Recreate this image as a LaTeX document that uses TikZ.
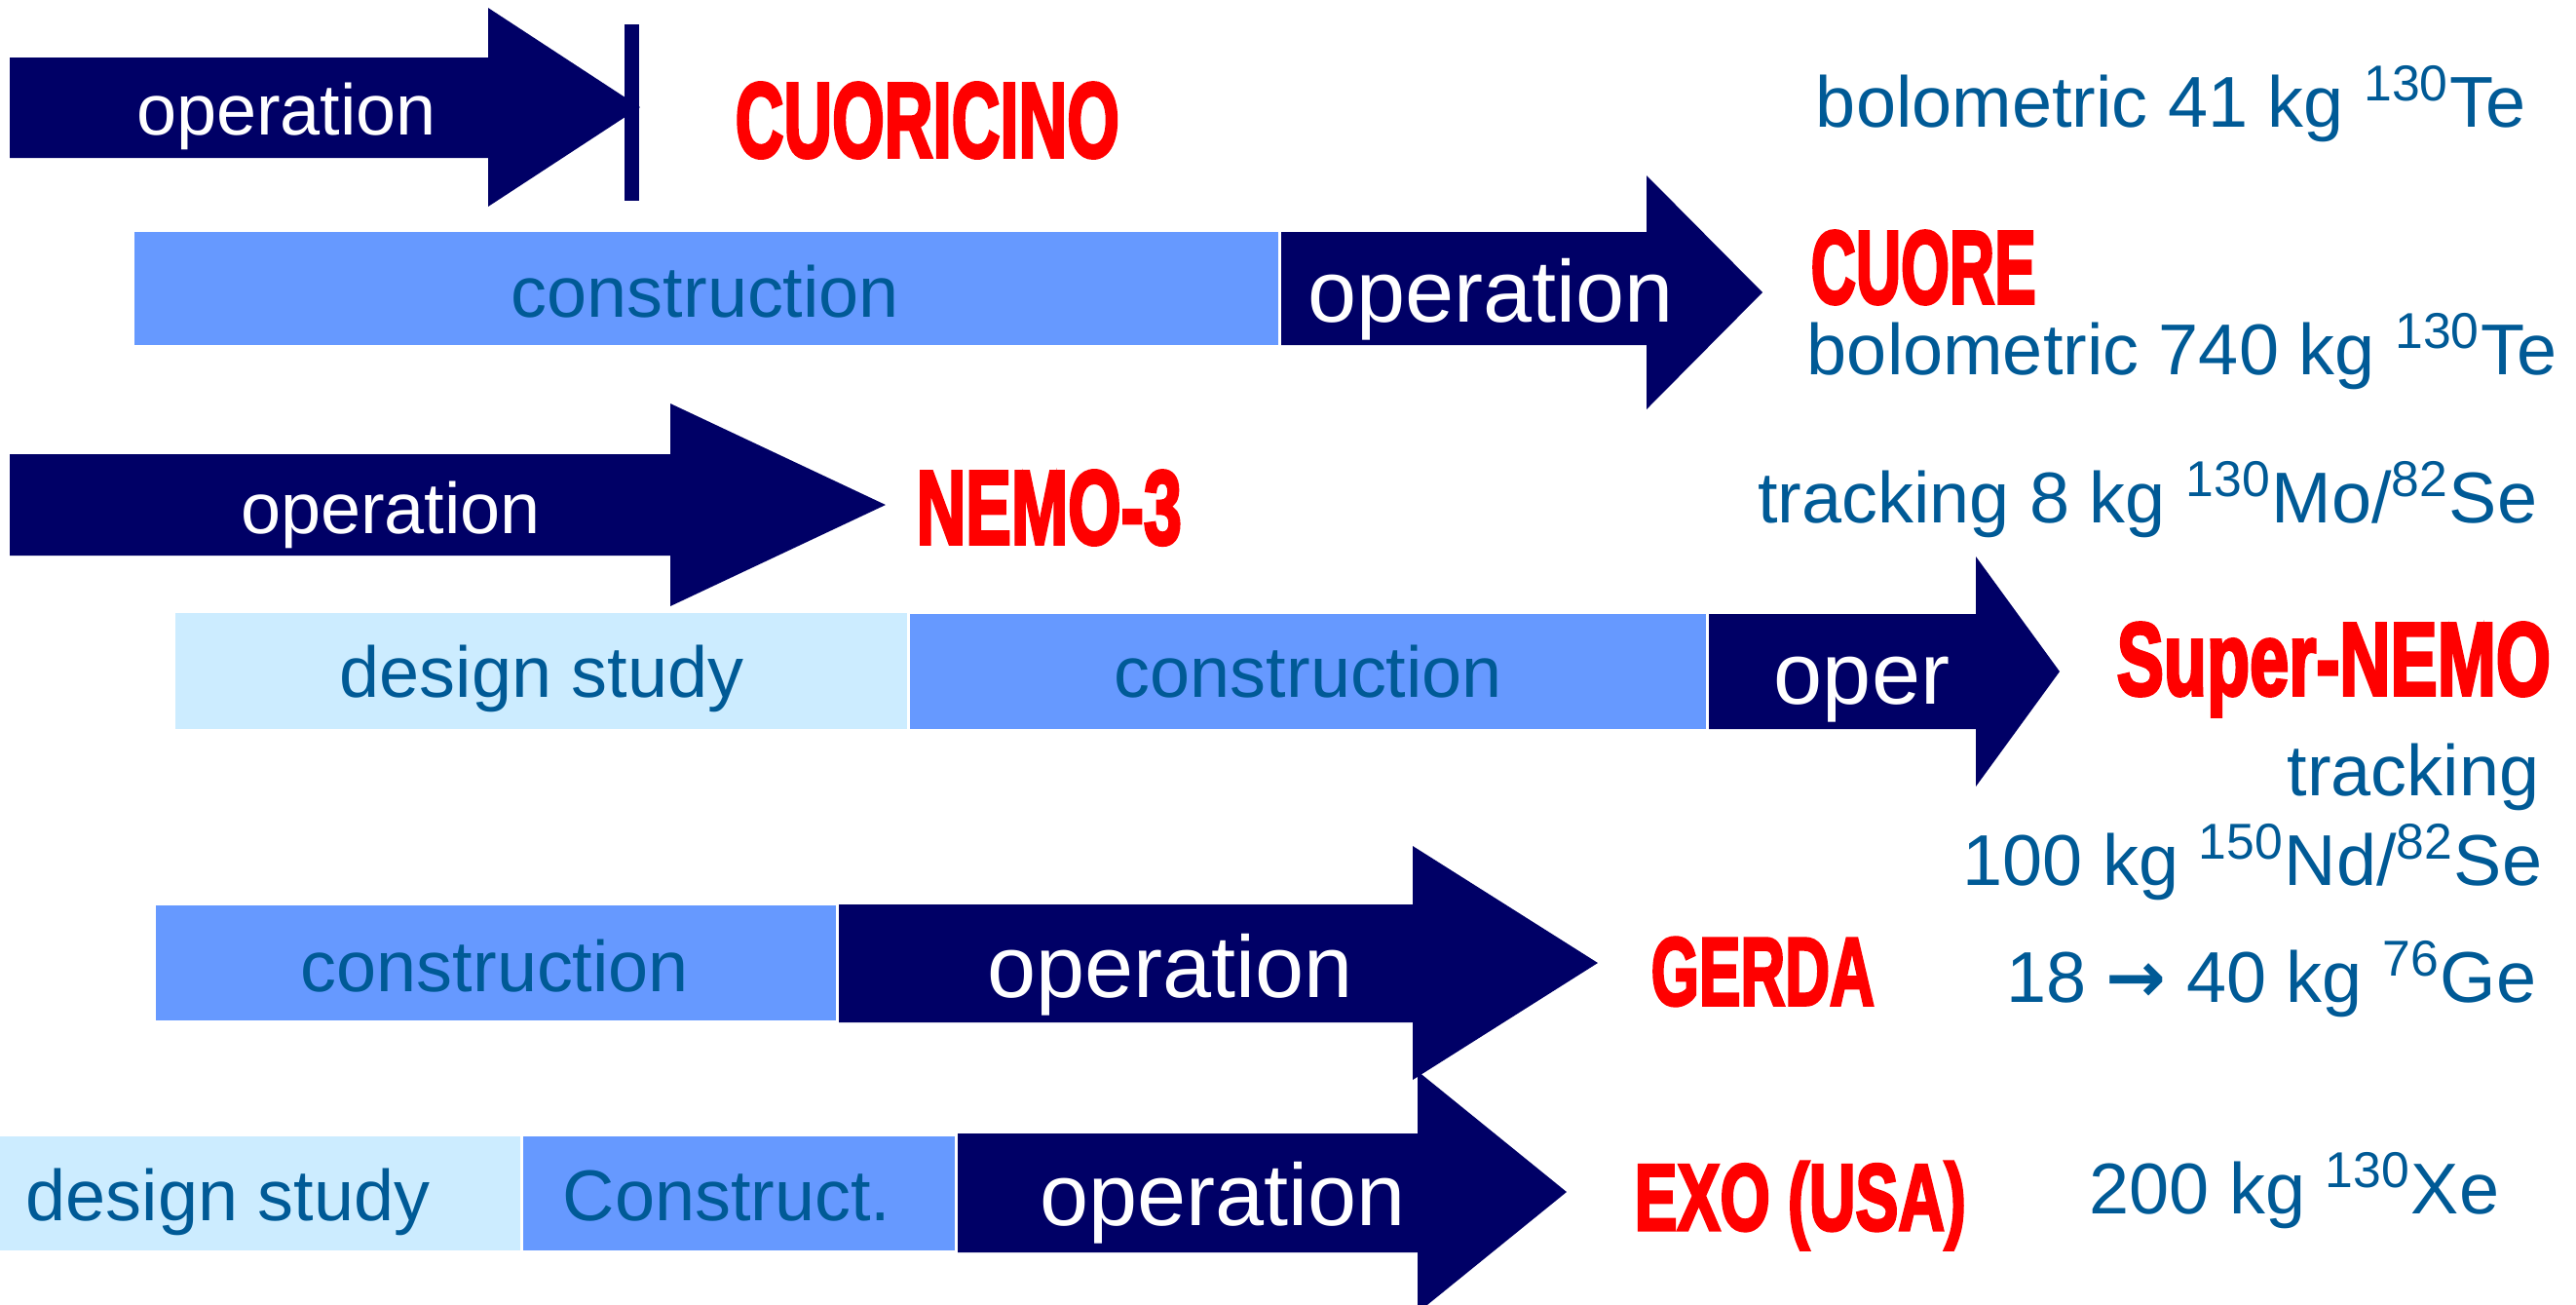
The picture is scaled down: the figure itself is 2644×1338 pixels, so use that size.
\documentclass[tikz,border=0pt]{standalone}
\usepackage{fontspec}
\usepackage{graphicx}
\setmainfont{Liberation Sans}
\newfontfamily\heavyfont{Liberation Sans}[BoldFeatures={FakeBold=3.5}]
\newfontfamily\arrowfont{DejaVu Sans}
\definecolor{opnavy}{RGB}{0,0,102}
\definecolor{conblue}{RGB}{102,153,255}
\definecolor{desblue}{RGB}{204,236,255}
\definecolor{txtblue}{RGB}{0,90,150}
\definecolor{labred}{RGB}{255,0,0}
\newcommand\heavylabel[3]{\resizebox{#1}{#2}{\heavyfont\bfseries #3}}
\tikzset{
  opfill/.style={fill=opnavy},
  confill/.style={fill=conblue},
  desfill/.style={fill=desblue},
  optext/.style={text=white, font=\fontsize{21}{21}\selectfont, anchor=base, inner sep=0pt},
  bigoptext/.style={text=white, font=\fontsize{25.6}{26}\selectfont, anchor=base, inner sep=0pt},
  boxtext/.style={text=txtblue, font=\fontsize{21}{21}\selectfont, anchor=base, inner sep=0pt},
  infotext/.style={text=txtblue, font=\fontsize{21}{21}\selectfont, anchor=base east, inner sep=0pt},
  expname/.style={text=labred, anchor=base west, inner sep=0pt},
}
\begin{document}
\begin{tikzpicture}[x=0.01cm,y=-0.01cm]
\useasboundingbox (0,0) rectangle (2644,1338);
\fill[white] (0,0) rectangle (2644,1338);
\begin{scope}
\clip (0,0) rectangle (2644,1338);
% Row 1: CUORICINO
\fill[opfill] (10,59) -- (501,59) -- (501,8) -- (657,110) -- (501,212) -- (501,162) -- (10,162) -- cycle;
\fill[opfill] (641,25) rectangle (656,206);
\node[optext] (op1) at (294,138) {operation};
\node[expname] (cuoricino) at (754,161) {\heavylabel{3.94cm}{0.76cm}{CUORICINO}};
\node[infotext] (info1) at (2593,130) {bolometric 41 kg \textsuperscript{130}Te};
% Row 2: CUORE
\fill[confill] (138,238) rectangle (1312,354);
\fill[opfill] (1315,238) -- (1690,238) -- (1690,180) -- (1809,300) -- (1690,420) -- (1690,354) -- (1315,354) -- cycle;
\node[boxtext] (con2) at (724,325) {construction};
\node[bigoptext] (op2) at (1530,330) {operation};
\node[expname] (cuore) at (1858,311) {\heavylabel{2.31cm}{0.74cm}{CUORE}};
\node[infotext] (info2) at (2625,384) {bolometric 740 kg \textsuperscript{130}Te};
% Row 3: NEMO-3
\fill[opfill] (10,466) -- (688,466) -- (688,414) -- (909,518) -- (688,622) -- (688,570) -- (10,570) -- cycle;
\node[optext] (op3) at (401,547) {operation};
\node[expname] (nemo) at (940,558) {\heavylabel{2.72cm}{0.75cm}{NEMO-3}};
\node[infotext] (info3) at (2605,536) {tracking 8 kg \textsuperscript{130}Mo/\textsuperscript{82}Se};
% Row 4: Super-NEMO
\fill[desfill] (180,629) rectangle (931,748);
\fill[confill] (934,630) rectangle (1751,748);
\fill[opfill] (1754,630) -- (2028,630) -- (2028,571) -- (2114,689) -- (2028,807) -- (2028,748) -- (1754,748) -- cycle;
\node[boxtext] (des4) at (556,715) {design study};
\node[boxtext] (con4) at (1343,715) {construction};
\node[bigoptext] (op4) at (1911,722) {oper};
\node[expname] (supernemo) at (2172,713) {\heavylabel{4.45cm}{0.74cm}{Super-NEMO}};
\node[infotext] (info4a) at (2607,816) {tracking};
\node[infotext] (info4b) at (2610,908) {100 kg \textsuperscript{150}Nd/\textsuperscript{82}Se};
% Row 5: GERDA
\fill[confill] (160,929) rectangle (858,1047);
\fill[opfill] (861,928) -- (1450,928) -- (1450,868) -- (1640,988) -- (1450,1108) -- (1450,1049) -- (861,1049) -- cycle;
\node[boxtext] (con5) at (508,1017) {construction};
\node[bigoptext] (op5) at (1201,1023) {operation};
\node[expname] (gerda) at (1694,1031) {\heavylabel{2.29cm}{0.69cm}{GERDA}};
\node[infotext] (info5) at (2604,1028) {18 {\arrowfont\bfseries →} 40 kg \textsuperscript{76}Ge};
% Row 6: EXO
\fill[desfill] (0,1166) rectangle (534,1283);
\fill[confill] (537,1166) rectangle (980,1283);
\fill[opfill] (983,1163) -- (1455,1163) -- (1455,1099) -- (1608,1223) -- (1455,1347) -- (1455,1285) -- (983,1285) -- cycle;
\node[boxtext] (des6) at (234,1252) {design study};
\node[boxtext] (con6) at (746,1252) {Construct.};
\node[bigoptext] (op6) at (1255,1257) {operation};
\node[expname] (exo) at (1677,1262) {\heavylabel{3.40cm}{0.70cm}{EXO (USA)}};
\node[infotext] (info6) at (2566,1245) {200 kg \textsuperscript{130}Xe};
\end{scope}
\end{tikzpicture}
\end{document}
